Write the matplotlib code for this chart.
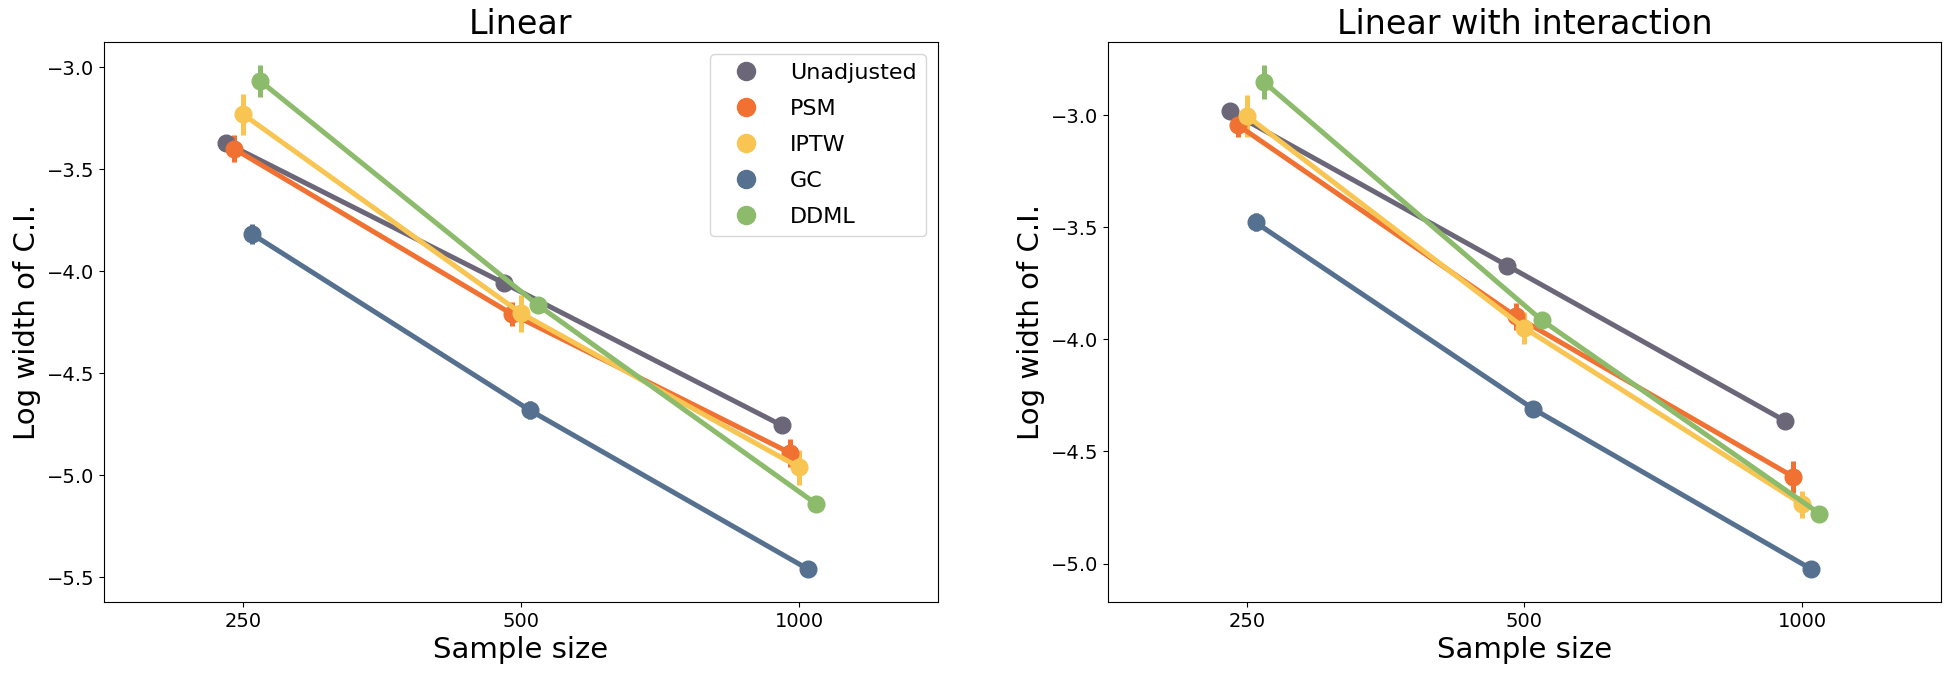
import numpy as np
import matplotlib.pyplot as plt
from matplotlib.lines import Line2D

sample_sizes = ["250", "500", "1000"]
methods = ["Unadjusted", "PSM", "IPTW", "GC", "DDML"]
colors = ["#6b6778", "#f07131", "#f8c553", "#55718f", "#8cbb6b"]

# log width of C.I. per method, one value per sample size
linear_mean = {
    "Unadjusted": [-3.37, -4.057, -4.754],
    "PSM": [-3.40, -4.21, -4.89],
    "IPTW": [-3.23, -4.205, -4.96],
    "GC": [-3.816, -4.68, -5.458],
    "DDML": [-3.068, -4.167, -5.14],
}
linear_err = {
    "Unadjusted": [0.025, 0.03, 0.025],
    "PSM": [0.066, 0.06, 0.07],
    "IPTW": [0.10, 0.09, 0.085],
    "GC": [0.05, 0.045, 0.035],
    "DDML": [0.08, 0.03, 0.025],
}
inter_mean = {
    "Unadjusted": [-2.983, -3.671, -4.363],
    "PSM": [-3.046, -3.898, -4.613],
    "IPTW": [-3.004, -3.95, -4.735],
    "GC": [-3.479, -4.31, -5.023],
    "DDML": [-2.854, -3.915, -4.777],
}
inter_err = {
    "Unadjusted": [0.025, 0.03, 0.03],
    "PSM": [0.05, 0.06, 0.07],
    "IPTW": [0.094, 0.07, 0.06],
    "GC": [0.04, 0.035, 0.03],
    "DDML": [0.075, 0.03, 0.025],
}

fig = plt.figure(figsize=(19.46, 6.77), dpi=100)
ax1 = fig.add_axes([0.0534, 0.1108, 0.4286, 0.827])
ax2 = fig.add_axes([0.5694, 0.1108, 0.4280, 0.827])

dodge = 0.125
offsets = np.linspace(0, dodge, len(methods)) - dodge / 2
xs = np.arange(len(sample_sizes))


def draw(ax, means, errs, title, ylim):
    for i, m in enumerate(methods):
        ax.errorbar(xs + offsets[i], means[m], yerr=errs[m], fmt="-o",
                    color=colors[i], lw=3.6, elinewidth=3.6, ms=12, capsize=0)
    ax.set_xticks(xs)
    ax.set_xticklabels(sample_sizes)
    ax.set_xlim(-0.5, 2.5)
    ax.set_ylim(*ylim)
    ax.tick_params(labelsize=14)
    ax.set_xlabel("Sample size", fontsize=21)
    ax.set_ylabel("Log width of C.I.", fontsize=21)
    ax.set_title(title, fontsize=24)


draw(ax1, linear_mean, linear_err, "Linear", (-5.62, -2.877))
draw(ax2, inter_mean, inter_err, "Linear with interaction", (-5.171, -2.675))

handles = [Line2D([], [], marker="o", linestyle="", color=c, ms=13) for c in colors]
ax1.legend(handles, methods, loc="upper right", fontsize=16, handlelength=2.4,
           handletextpad=0.8, labelspacing=0.72, borderaxespad=0.55)

plt.savefig("out.png", dpi=100)
